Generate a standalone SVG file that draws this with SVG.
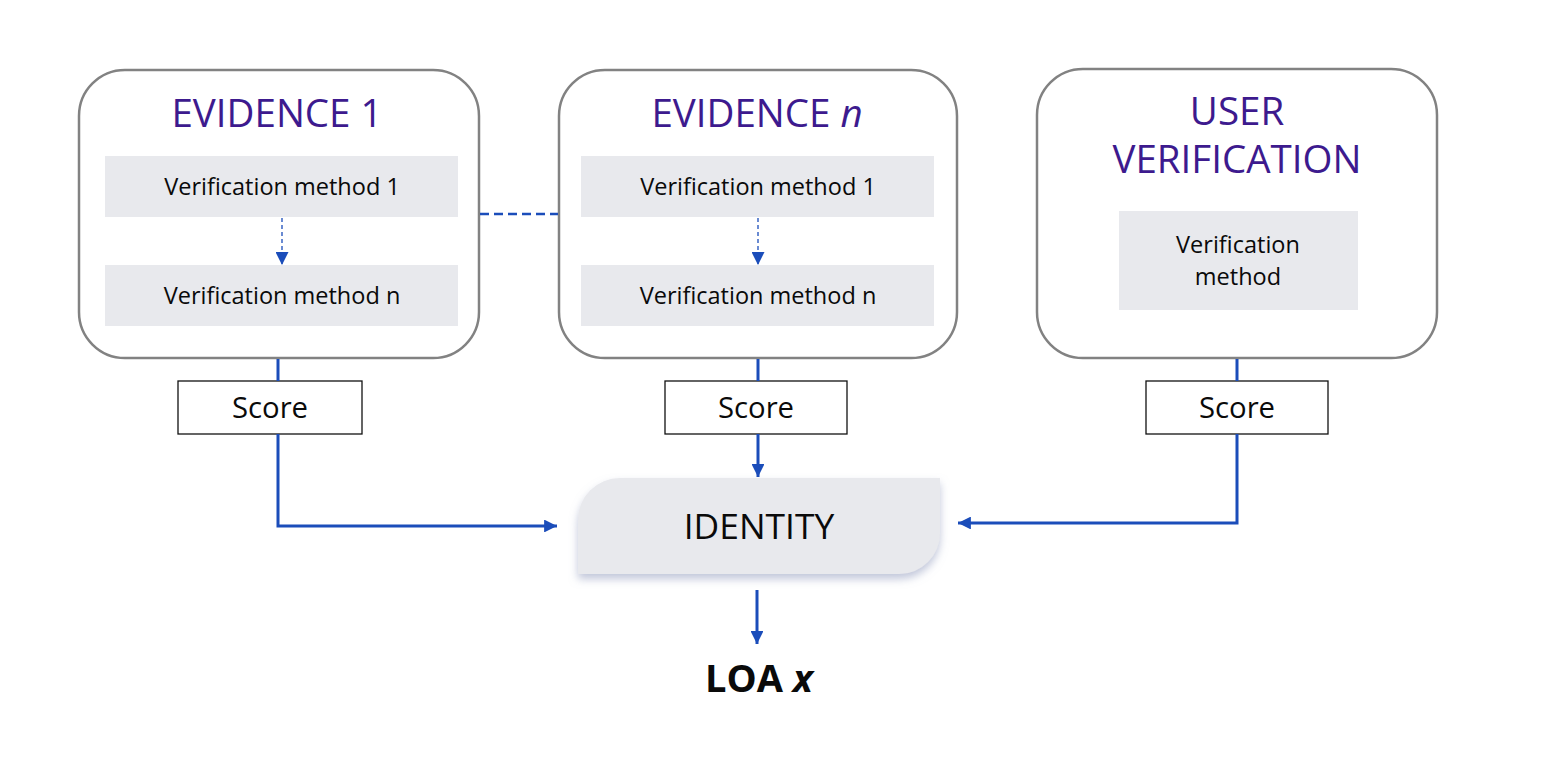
<svg xmlns="http://www.w3.org/2000/svg" width="1558" height="774" viewBox="0 0 1558 774">
<defs>
<style>
.card{fill:#fff;stroke:#828282;stroke-width:2.5}
.inner{fill:#E8E9ED}
.title{font-family:"Open Sans","Noto Sans",sans-serif;font-size:38.5px;fill:#3D1A8E;text-anchor:middle}
.vm{font-family:"Open Sans","Noto Sans",sans-serif;font-size:23.5px;fill:#0A0A0A;text-anchor:middle}
.score{fill:#fff;stroke:#111;stroke-width:1.3}
.st{font-family:"Open Sans","Noto Sans",sans-serif;font-size:29.3px;fill:#0A0A0A;text-anchor:middle}
.conn{fill:none;stroke:#1B4DBA;stroke-width:3}
.dash{fill:none;stroke:#1B4DBA;stroke-width:1.3;stroke-dasharray:4 3}
.dash2{fill:none;stroke:#1B4DBA;stroke-width:2.5;stroke-dasharray:9 5}
</style>
<marker id="ah" viewBox="0 0 10 10" refX="10" refY="5" markerWidth="4.3" markerHeight="4.3" markerUnits="strokeWidth" orient="auto">
<path d="M0,0 L10,5 L0,10 z" fill="#1B4DBA"/>
</marker>
<marker id="ahs" viewBox="0 0 10 10" refX="10" refY="5" markerWidth="10" markerHeight="10" markerUnits="strokeWidth" orient="auto">
<path d="M0,0 L10,5 L0,10 z" fill="#1B4DBA"/>
</marker>
<filter id="sh" x="-10%" y="-20%" width="120%" height="150%">
<feDropShadow dx="0" dy="5" stdDeviation="4" flood-color="#8E99BC" flood-opacity="0.55"/>
</filter>
</defs>
<rect width="1558" height="774" fill="#fff"/>

<g id="evidence1">
<rect class="card" x="79" y="70" width="400" height="288" rx="46"/>
<text class="title" x="277" y="127">EVIDENCE 1</text>
<rect class="inner" x="105" y="156" width="353" height="61"/>
<text class="vm" x="282" y="195">Verification method 1</text>
<rect class="inner" x="105" y="265" width="353" height="61"/>
<text class="vm" x="282" y="304">Verification method n</text>
</g>

<g id="evidenceN">
<rect class="card" x="559" y="70" width="398" height="288" rx="46"/>
<text class="title" x="757" y="127">EVIDENCE <tspan font-style="italic">n</tspan></text>
<rect class="inner" x="581" y="156" width="353" height="61"/>
<text class="vm" x="758" y="195">Verification method 1</text>
<rect class="inner" x="581" y="265" width="353" height="61"/>
<text class="vm" x="758" y="304">Verification method n</text>
</g>

<g id="userVerification">
<rect class="card" x="1037" y="69" width="400" height="289" rx="46"/>
<text class="title" x="1237" y="125">USER</text>
<text class="title" x="1237" y="173">VERIFICATION</text>
<rect class="inner" x="1119" y="211" width="239" height="99"/>
<text class="vm" x="1238" y="253">Verification</text>
<text class="vm" x="1238" y="285">method</text>
</g>

<g id="score1">
<rect class="score" x="178" y="381" width="184" height="53"/>
<text class="st" x="270" y="418">Score</text>
</g>
<g id="score2">
<rect class="score" x="665" y="381" width="182" height="53"/>
<text class="st" x="756" y="418">Score</text>
</g>
<g id="score3">
<rect class="score" x="1146" y="381" width="182" height="53"/>
<text class="st" x="1237" y="418">Score</text>
</g>

<g id="identity">
<path d="M620,478 L940,478 L940,533 A41,41 0 0 1 899,574 L578,574 L578,520 A42,42 0 0 1 620,478 Z" fill="#E8E9ED" filter="url(#sh)"/>
<text x="759" y="539" font-family="'Open Sans','Noto Sans',sans-serif" font-size="35.4" fill="#0A0A0A" text-anchor="middle">IDENTITY</text>
</g>

<g id="loa">
<text x="759" y="692" font-family="'Open Sans','Noto Sans',sans-serif" font-size="38" font-weight="bold" fill="#0A0A0A" text-anchor="middle">LOA <tspan font-style="italic">x</tspan></text>
</g>

<g id="connectors">
<line class="dash2" x1="480" y1="214" x2="558" y2="214"/>
<line class="dash" x1="282" y1="218" x2="282" y2="265" marker-end="url(#ahs)"/>
<line class="dash" x1="758" y1="218" x2="758" y2="265" marker-end="url(#ahs)"/>
<line class="conn" x1="278" y1="359" x2="278" y2="381"/>
<polyline class="conn" points="278,434 278,526 557,526" marker-end="url(#ah)"/>
<line class="conn" x1="758" y1="359" x2="758" y2="381"/>
<line class="conn" x1="758" y1="434" x2="758" y2="477" marker-end="url(#ah)"/>
<line class="conn" x1="1237" y1="359" x2="1237" y2="381"/>
<polyline class="conn" points="1237,434 1237,523 958,523" marker-end="url(#ah)"/>
<line class="conn" x1="757" y1="590" x2="757" y2="644" marker-end="url(#ah)"/>
</g>
</svg>
